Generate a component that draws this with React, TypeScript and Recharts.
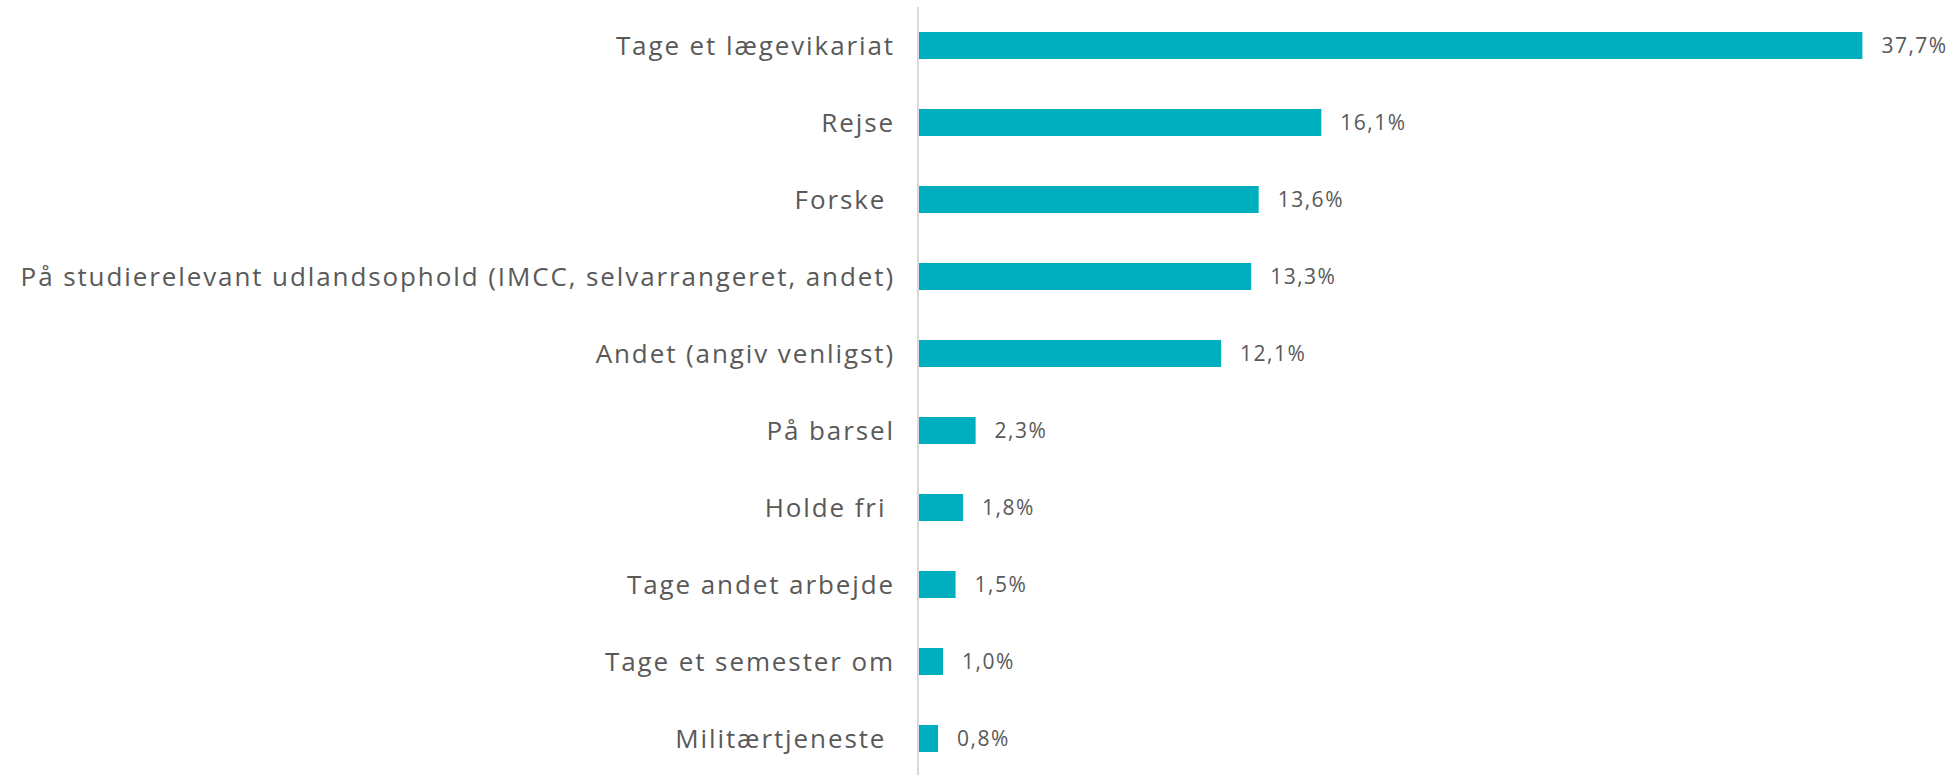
import React from 'react';
import { BarChart, Bar, XAxis, YAxis, LabelList } from 'recharts';

// --- Data ---
const CATEGORIES = [
  'Tage et lægevikariat',
  'Rejse',
  'Forske\u00A0',
  'På studierelevant udlandsophold (IMCC, selvarrangeret, andet)',
  'Andet (angiv venligst)',
  'På barsel',
  'Holde fri\u00A0',
  'Tage andet arbejde',
  'Tage et semester om',
  'Militærtjeneste\u00A0',
];
const VALUES = [37.7, 16.1, 13.6, 13.3, 12.1, 2.3, 1.8, 1.5, 1.0, 0.8];

const BAR_COLOR = '#00AFBF';
const TEXT_COLOR = '#595959';
const FONT = '"Open Sans", sans-serif';

const data = CATEGORIES.map((name, i) => ({ name, value: VALUES[i] }));

const formatPct = (v: any) => `${Number(v).toFixed(1).replace('.', ',')}%`;

export default function App() {
  return (
    <div style={{ position: 'absolute', top: 0, left: 0, background: '#fff' }}>
      <BarChart
        width={1958}
        height={777}
        data={data}
        layout="vertical"
        margin={{ top: 7, right: 38, bottom: 0, left: 0 }}
      >
        <XAxis type="number" domain={[0, 40]} hide />
        <YAxis
          type="category"
          dataKey="name"
          width={918}
          tickLine={false}
          tickSize={0}
          tickMargin={23}
          axisLine={{ stroke: '#d9d9d9', strokeWidth: 2 }}
          tick={{ fontSize: 26, fill: TEXT_COLOR, fontFamily: FONT, letterSpacing: 1.9 }}
          interval={0}
        />
        <Bar dataKey="value" fill={BAR_COLOR} barSize={27} isAnimationActive={false}>
          <LabelList
            dataKey="value"
            position="right"
            offset={19}
            formatter={formatPct}
            style={{ fontSize: 21, fill: TEXT_COLOR, fontFamily: FONT, letterSpacing: 1.5 }}
          />
        </Bar>
      </BarChart>
    </div>
  );
}
